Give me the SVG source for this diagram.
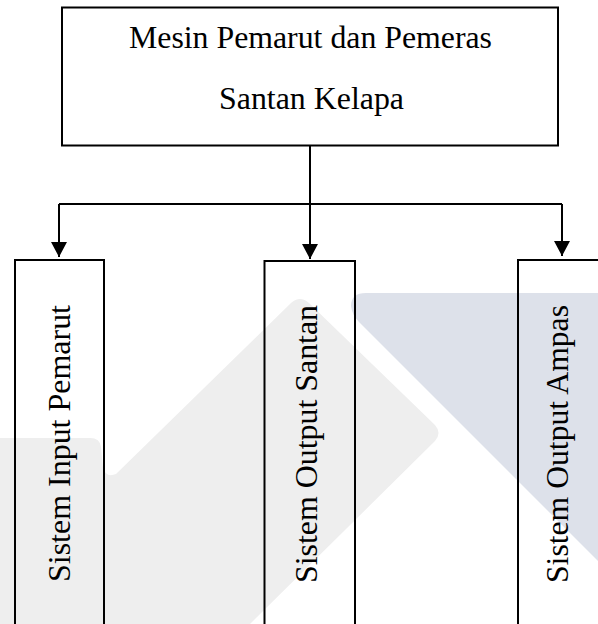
<svg xmlns="http://www.w3.org/2000/svg" width="598" height="624" viewBox="0 0 598 624">
  <style>
    .box { fill: none; stroke: #000; stroke-width: 2; }
    .wire { fill: none; stroke: #000; stroke-width: 2; }
    .lbl { font-family: "Liberation Serif", "Times New Roman", serif; fill: #000; font-size: 32px; }
  </style>
  <defs>
    <marker id="arrow" markerUnits="userSpaceOnUse" markerWidth="16" markerHeight="16" refX="15" refY="8" orient="auto">
      <path d="M0,0 L15,8 L0,16 Z" fill="#000"/>
    </marker>
  </defs>
  <rect x="0" y="0" width="598" height="624" fill="#ffffff"/>
  <g id="watermark">
    <path d="M0,438 L90,438 Q100,438 101,447 L103,468 Q106,478 116,474 L291,303 Q300,295 309,303 L435,425 Q442,433 435,441 L250,624 L0,624 Z" fill="#eeeeee"/>
    <path d="M598,293 L366,293 Q351,293 351,306 Q352,315 359,322 L598,561 Z" fill="#dde1ea"/>
  </g>
  <g id="node-main">
    <rect class="box" x="62" y="7.5" width="496" height="138"/>
    <text class="lbl" x="129" y="48" textLength="363" lengthAdjust="spacingAndGlyphs">Mesin Pemarut dan Pemeras</text>
    <text class="lbl" x="219" y="109" textLength="185" lengthAdjust="spacingAndGlyphs">Santan Kelapa</text>
  </g>
  <g id="node-input">
    <rect class="box" x="15" y="260" width="89" height="380"/>
    <text class="lbl" transform="translate(70,582) rotate(-90)" textLength="277" lengthAdjust="spacingAndGlyphs">Sistem Input Pemarut</text>
  </g>
  <g id="node-santan">
    <rect class="box" x="264.5" y="261" width="90.5" height="380"/>
    <text class="lbl" transform="translate(316.5,583) rotate(-90)" textLength="278" lengthAdjust="spacingAndGlyphs">Sistem Output Santan</text>
  </g>
  <g id="node-ampas">
    <rect class="box" x="518" y="260" width="92" height="380"/>
    <text class="lbl" transform="translate(568,583) rotate(-90)" textLength="278" lengthAdjust="spacingAndGlyphs">Sistem Output Ampas</text>
  </g>
  <g id="connectors">
    <path class="wire" d="M310,146 L310,204"/>
    <path class="wire" d="M59,204 L562,204"/>
    <path class="wire" d="M59,204 L59,257" marker-end="url(#arrow)"/>
    <path class="wire" d="M310,204 L310,259" marker-end="url(#arrow)"/>
    <path class="wire" d="M562,204 L562,256" marker-end="url(#arrow)"/>
  </g>
</svg>
